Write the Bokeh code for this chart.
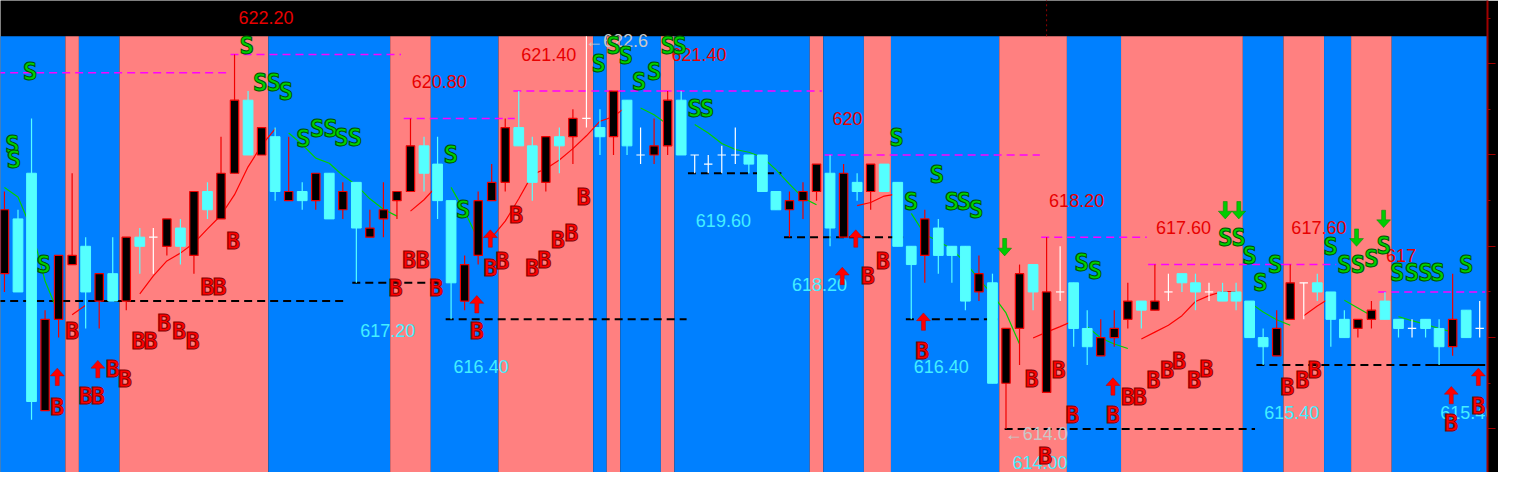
from bokeh.plotting import figure
from bokeh.models import Range1d, LinearAxis, FixedTicker
from bokeh.core.properties import value
from bokeh.embed import file_html
from bokeh.resources import INLINE

nan = float("nan")
_ = None

# ---------------- data (prices) ----------------
opens = [618.8, 617.0, 614.6, 616.4, 617.8, 617.8, 617.0, 617.4, 616.8, 618.2,
         618.0, 618.2, 618.6, 618.0, 619.2, 618.8, 619.6, 621.2, 620.0, 620.6,
         619.2, 619.2, 619.0, 619.6, 618.6, 619.2, 618.4, 618.4, 618.8, 619.2,
         620.2, 619.6, 619.0, 617.2, 617.6, 619.0, 619.4, 620.6, 620.2, 619.4,
         620.4, 620.2, 620.8, 620.8, 620.4, 621.4, 620.2, 620.0, 620.2, 621.2,
         620.0, 620.0, 619.8, 620.0, 620.0, 619.8, 619.2, 618.8, 619.0, 619.2,
         619.8, 618.4, 619.6, 619.2, 619.8, 619.2, 618.0, 617.6, 618.6, 617.8,
         617.8, 616.8, 617.4, 615.0, 616.2, 617.4, 617.0, 617.0, 617.0, 616.2,
         615.8, 616.0, 616.2, 616.8, 616.6, 616.8, 617.0, 617.2, 617.0, 617.0,
         616.8, 616.8, 616.0, 615.8, 616.2, 617.2, 617.2, 617.0, 616.4, 616.0,
         616.4, 616.6, 616.4, 616.2, 616.2, 616.2, 615.8, 616.4, 616.0, 616.2]
highs = [619.2, 618.8, 620.8, 616.6, 617.8, 619.6, 618.2, 617.4, 618.2, 618.2,
         618.4, 618.4, 618.6, 618.6, 619.2, 619.4, 620.4, 622.2, 621.4, 620.6,
         620.6, 620.4, 619.4, 619.6, 619.6, 619.4, 619.4, 618.8, 619.4, 619.2,
         620.8, 620.4, 620.4, 619.0, 617.8, 619.2, 619.8, 620.8, 621.4, 620.4,
         620.4, 620.6, 621.0, 622.6, 621.0, 621.4, 621.2, 620.6, 620.8, 621.4,
         621.4, 620.0, 620.0, 620.2, 620.6, 620.0, 620.0, 619.2, 619.2, 619.4,
         619.8, 620.0, 619.8, 619.6, 619.8, 619.8, 619.4, 618.0, 618.8, 618.6,
         618.0, 618.0, 617.8, 617.4, 616.2, 617.6, 617.6, 618.2, 618.0, 617.2,
         616.6, 616.4, 616.6, 617.2, 616.8, 617.6, 617.4, 617.4, 617.4, 617.2,
         617.2, 617.2, 616.8, 616.2, 616.6, 617.6, 617.2, 617.4, 617.0, 616.6,
         616.4, 616.8, 617.0, 616.4, 616.4, 616.4, 616.4, 617.4, 616.6, 616.8]
lows = [617.0, 617.0, 614.2, 614.4, 616.0, 617.6, 616.2, 616.2, 616.8, 616.6,
        617.4, 617.4, 617.8, 617.6, 617.4, 618.6, 618.6, 619.6, 620.0, 620.0,
        619.0, 619.0, 618.8, 618.8, 618.6, 618.6, 617.2, 618.2, 618.2, 618.6,
        619.2, 619.2, 618.6, 616.4, 616.6, 617.6, 619.0, 619.2, 620.2, 619.0,
        619.2, 619.6, 619.8, 620.6, 620.0, 620.0, 620.0, 619.8, 619.8, 620.0,
        620.0, 619.6, 619.6, 619.6, 619.8, 619.6, 619.2, 618.8, 618.2, 618.6,
        619.0, 618.0, 618.2, 619.0, 618.8, 619.2, 618.0, 616.4, 617.2, 617.4,
        617.2, 616.6, 616.8, 615.0, 614.0, 615.4, 616.6, 614.8, 616.8, 615.8,
        615.4, 615.6, 615.8, 616.2, 616.2, 616.6, 616.8, 617.0, 616.6, 616.8,
        616.8, 616.6, 616.0, 615.4, 615.6, 616.4, 616.4, 616.8, 615.8, 616.0,
        616.0, 616.2, 616.4, 616.0, 616.0, 616.0, 615.4, 615.6, 616.0, 616.0]
closes = [617.4, 618.6, 619.6, 614.4, 616.4, 617.6, 618.0, 616.8, 617.4, 616.8,
          618.2, 618.2, 618.0, 618.4, 617.8, 619.2, 618.6, 619.6, 621.2, 620.0,
          620.4, 619.0, 619.2, 619.0, 619.6, 618.8, 619.4, 618.2, 618.6, 619.0,
          619.2, 620.2, 619.8, 619.0, 616.8, 617.8, 619.0, 619.4, 620.6, 620.2,
          619.4, 620.4, 620.4, 620.8, 620.6, 620.4, 621.2, 620.0, 620.0, 620.2,
          621.2, 620.0, 619.8, 620.0, 620.0, 620.0, 620.0, 619.2, 618.8, 619.0,
          619.2, 619.6, 618.2, 619.4, 619.2, 619.8, 619.4, 618.0, 617.8, 618.4,
          618.0, 618.0, 617.0, 617.2, 615.0, 616.2, 617.6, 614.8, 617.0, 617.2,
          616.2, 615.6, 616.0, 616.4, 616.8, 616.6, 617.0, 617.4, 617.2, 617.0,
          617.0, 617.0, 616.8, 616.0, 615.6, 616.4, 617.2, 617.2, 617.0, 616.4,
          616.2, 616.4, 616.8, 616.4, 616.2, 616.4, 616.2, 615.8, 616.6, 616.2]

ma_green = [619.29, 619.08, 618.38, 617.24, 616.52, _, _, _, _, _,
            _, _, _, _, _, _, _, _, _, _,
            _, 620.48, 620.23, 619.93, 619.82, 619.55, 619.34, 619.04, 618.81, 618.66,
            _, _, _, 619.29, 618.77, 618.15, _, _, _, _,
            _, _, _, _, _, _, _, 621.03, 620.88, 620.67,
            _, 620.67, 620.48, 620.25, 620.12, 620.06, 619.95, 619.68, 619.36, 619.06,
            618.91, _, _, _, _, _, _, 618.72, 618.26, 618.11,
            617.94, 617.64, 617.28, 616.94, 616.54, 615.86, _, _, _, _,
            616.24, 615.99, 615.86, 615.76, _, _, _, _, _, _,
            _, _, 616.77, 616.56, 616.39, 616.27, _, _, _, 616.82,
            616.65, 616.48, _, 616.46, 616.37, 616.29, 616.20, 616.12, _, _]
ma_red = [_, _, _, _, _, 616.50, 616.71, _, _, _,
          616.96, 617.35, 617.68, 617.85, 618.07, 618.38, 618.68, 619.13, 619.74, 620.21,
          620.57, _, _, _, _, _, _, _, _, _,
          618.77, 619.02, 619.34, _, _, _, 618.19, 618.55, 619.04, 619.57,
          619.70, 619.89, 620.14, 620.42, 620.74, 620.84, 621.07, _, _, _,
          _, _, _, _, _, _, _, _, _, _,
          _, _, _, 618.89, 618.96, 619.10, 619.15, _, _, _,
          _, _, _, _, _, _, 615.99, 616.12, 616.24, 616.37,
          _, _, _, _, 615.97, 616.12, 616.27, 616.48, 616.79, 616.92,
          617.01, 617.01, _, _, _, _, 616.48, 616.69, 616.88, _,
          _, _, _, _, _, _, _, _, _, _]

# background regime runs (candles per run), alternating blue / red, starting blue
band_runs = [5, 1, 3, 11, 9, 3, 5, 7, 1, 1, 3, 1, 10, 1, 3, 2, 8, 5, 4, 9, 3, 3, 2, 3, 7]
band_top = 622.6

# resistance (magenta) and support (black) levels
mag_start = [-1.5, 16.7, 37.6, 48.7, 29.5, 60.6, 76.6, 84.5, 94.5, 101.5]
mag_end = [16.4, 29.3, 48.7, 60.4, 37.7, 76.5, 84.4, 94.5, 98.4, 109.4]
mag_price = [621.8, 622.2, 621.4, 621.4, 620.8, 620.0, 618.2, 617.6, 617.6, 617.0]
mag_label = ["", "622.20", "621.40", "621.40", "620.80", "620", "618.20", "617.60", "617.60", "617"]

sup_start = [-1.5, 25.7, 32.6, 50.5, 57.6, 66.6, 73.9, 92.5, 105.5]
sup_end = [25.3, 32.4, 50.4, 57.4, 66.4, 73.4, 92.4, 109.4, 109.4]
sup_price = [616.8, 617.2, 616.4, 619.6, 618.2, 616.4, 614.0, 615.4, 615.4]
sup_label = ["", "617.20", "616.40", "619.60", "618.20", "616.40", "614.00", "615.40", "615.40"]

ext_idx = [43, 74]
ext_text = ["\u2190622.6", "\u2190614.0"]
ext_price = [622.6, 614.0]

sep_idx = [77]

s_x = [1.9, 0.6, 0.7, 2.9, 17.9, 18.9, 19.9, 20.8, 22.1, 23.1, 24.1, 24.9, 25.9, 33.0, 33.9,
       43.9, 45.0, 45.9, 46.9, 48.0, 49.0, 49.9, 51.0, 51.9, 65.9, 67.0, 68.9, 70.0, 70.9, 71.8,
       79.6, 80.6, 90.2, 91.2, 92.0, 92.8, 93.9, 98.0, 99.0, 100.0, 101.0, 101.9, 102.9, 104.0,
       105.0, 105.9, 108.0]
s_y = [621.82, 620.21, 619.89, 617.58, 622.39, 621.58, 621.58, 621.37, 620.35, 620.57, 620.57,
       620.38, 620.38, 619.99, 618.79, 621.99, 622.39, 622.16, 621.60, 621.82, 622.39, 622.39,
       621.01, 621.01, 620.38, 618.96, 619.57, 618.96, 618.96, 618.79, 617.64, 617.45, 618.19,
       618.19, 617.79, 617.20, 617.60, 617.98, 617.58, 617.58, 617.73, 618.00, 617.41, 617.41,
       617.41, 617.41, 617.58]
b_x = [16.9, 15.0, 15.9, 5.0, 9.9, 10.8, 11.8, 12.9, 13.9, 3.9, 6.0, 6.9, 8.0, 8.9,
       29.9, 30.9, 28.9, 31.9, 34.9, 35.9, 36.8, 37.8, 39.0, 39.9, 40.9, 41.9, 42.8,
       63.8, 64.9, 67.8, 75.9, 76.9, 77.9, 78.9, 81.9, 83.0, 83.9, 84.9, 85.9, 86.8, 87.9,
       88.8, 94.8, 95.9, 96.8, 106.9, 108.9]
b_y = [618.11, 617.11, 617.11, 616.14, 615.93, 615.93, 616.33, 616.14, 615.93, 614.49, 614.72,
       614.72, 615.31, 615.10, 617.71, 617.71, 617.09, 617.09, 616.14, 617.52, 617.68, 618.68,
       617.52, 617.71, 618.13, 618.30, 619.08, 617.35, 617.68, 615.71, 615.10, 613.40, 615.29,
       614.31, 614.31, 614.70, 614.70, 615.08, 615.29, 615.48, 615.08, 615.31, 614.91, 615.08,
       615.29, 614.13, 614.51]

up_arrow_x = [3.9, 6.9, 34.9, 35.9, 61.9, 62.9, 67.9, 81.9, 106.9, 108.9]
up_arrow_y = [615.14, 615.31, 616.73, 618.17, 617.35, 618.17, 616.35, 614.93, 614.74, 615.14]
dn_arrow_x = [73.9, 90.2, 91.2, 99.9, 101.9]
dn_arrow_y = [617.98, 618.79, 618.79, 618.19, 618.60]

# ---------------- styling / geometry ----------------
PX_X = 13.68   # reference pixels per candle
PX_Y = 47.2    # reference pixels per price unit
X0, X1 = -4 / PX_X, (1503 - 4) / PX_X
Y1, Y0 = 622.6 + 37 / PX_Y, 622.6 - 451 / PX_Y

BLUE, RED_BG = "#0080FF", "#FF8080"
CYAN, CANDLE_RED = "#55FFFF", "#F00000"

p = figure(width=1498, height=472, x_range=Range1d(X0, X1), y_range=Range1d(Y0, Y1),
           output_backend="svg", toolbar_location=None,
           x_axis_location=None, y_axis_location=None,
           background_fill_color="black", border_fill_color="black",
           outline_line_color=None, min_border=0)
p.min_border_right = 11
p.xgrid.visible = False
p.ygrid.visible = False

ax = LinearAxis(ticker=FixedTicker(ticks=[614, 616, 618, 620, 622],
                                   minor_ticks=[613, 615, 617, 619, 621, 623]),
                axis_line_color="#A00000", axis_line_width=2,
                major_tick_line_color="#A00000", minor_tick_line_color="#A00000",
                major_tick_out=8, major_tick_in=0, minor_tick_out=3, minor_tick_in=0,
                major_label_text_font_size="0px", major_label_text_alpha=0,
                major_label_standoff=0)
p.add_layout(ax, "right")

# background bands
lefts, rights, cols = [], [], []
start = 0
for k, n in enumerate(band_runs):
    end = start + n - 1
    lefts.append(start - 0.5 if k > 0 else X0 - 1)
    rights.append(end + 0.5 if k < len(band_runs) - 1 else X1 + 1)
    cols.append(BLUE if k % 2 == 0 else RED_BG)
    start = end + 1
p.quad(left=lefts, right=rights, top=band_top, bottom=Y0 - 1, fill_color=cols, line_color=None)

# separator in the top strip
p.segment(x0=sep_idx, x1=sep_idx, y0=band_top, y1=Y1 + 1, line_color="#900000",
          line_dash="2 3", line_width=1)

# level lines
p.segment(x0=mag_start, x1=mag_end, y0=mag_price, y1=mag_price, line_color="#FF00FF",
          line_width=1.5, line_dash="8 5")
p.segment(x0=sup_start, x1=sup_end, y0=sup_price, y1=sup_price, line_color="black",
          line_width=2, line_dash="8 5")

# moving average pieces
p.line(list(range(len(ma_green))), [nan if v is None else v for v in ma_green],
       line_color="#00D000", line_width=1.2)
p.line(list(range(len(ma_red))), [nan if v is None else v for v in ma_red],
       line_color="#FF0000", line_width=1.2)

# candles
idx = list(range(len(opens)))
up = [i for i in idx if closes[i] > opens[i]]
dn = [i for i in idx if closes[i] < opens[i]]
dj = [i for i in idx if closes[i] == opens[i]]

p.segment(x0=up, x1=up, y0=[lows[i] for i in up], y1=[highs[i] for i in up],
          line_color=CYAN, line_width=1.2)
p.segment(x0=dn, x1=dn, y0=[lows[i] for i in dn], y1=[highs[i] for i in dn],
          line_color=CANDLE_RED, line_width=1.2)
p.segment(x0=dj, x1=dj, y0=[lows[i] for i in dj], y1=[highs[i] for i in dj],
          line_color="white", line_width=1.2)
p.vbar(x=up, width=0.72, top=[closes[i] for i in up], bottom=[opens[i] for i in up],
       fill_color=CYAN, line_color=CYAN, line_width=1)
p.vbar(x=dn, width=0.62, top=[opens[i] for i in dn], bottom=[closes[i] for i in dn],
       fill_color="black", line_color=CANDLE_RED, line_width=1.2)
p.segment(x0=[i - 0.31 for i in dj], x1=[i + 0.31 for i in dj],
          y0=[closes[i] for i in dj], y1=[closes[i] for i in dj],
          line_color="white", line_width=1.2)

# level labels
lab_dx = 8 / PX_X
mx = [s + lab_dx for s, t in zip(mag_start, mag_label) if t]
my = [v + 38 / PX_Y for v, t in zip(mag_price, mag_label) if t]
mt = [t for t in mag_label if t]
p.text(x=mx, y=my, text=mt, text_color="#E80000", text_font=value("Liberation Sans"),
       text_font_size=value("18px"), text_align="left", text_baseline="middle")
y_floor = Y0 + 10 / PX_Y
sx = [s + lab_dx for s, t in zip(sup_start, sup_label) if t]
sy = [max(v - 49 / PX_Y, y_floor) for v, t in zip(sup_price, sup_label) if t]
st = [t for t in sup_label if t]
p.text(x=sx, y=sy, text=st, text_color="#44EEFF", text_font=value("Liberation Sans"),
       text_font_size=value("18px"), text_align="left", text_baseline="middle")
p.text(x=[i - 0.1 for i in ext_idx], y=[v - 5 / PX_Y for v in ext_price], text=ext_text,
       text_color="#C8C8C8", text_font=value("Liberation Sans"),
       text_font_size=value("18px"), text_align="left", text_baseline="middle")

# signal letters
p.text(x=s_x, y=s_y, text=["S"] * len(s_x), text_color="#00D000",
       text_font=value("DejaVu Sans Mono"), text_font_style="bold",
       text_font_size=value("24px"), text_align="center", text_baseline="middle",
       text_outline_color="#005000")
p.text(x=b_x, y=b_y, text=["B"] * len(b_x), text_color="#FF0000",
       text_font=value("DejaVu Sans Mono"), text_font_style="bold",
       text_font_size=value("23px"), text_align="center", text_baseline="middle",
       text_outline_color="#800000")

# arrows
def arrow(cx, cy, sign):
    pts = [(0, 9), (7, 1), (2, 1), (2, -9), (-2, -9), (-2, 1), (-7, 1)]
    return ([cx + dx / PX_X for dx, dy in pts], [cy + sign * dy / PX_Y for dx, dy in pts])

uxs, uys = zip(*[arrow(x, y, 1) for x, y in zip(up_arrow_x, up_arrow_y)])
p.patches(xs=list(uxs), ys=list(uys), fill_color="#FF0000", line_color="#C00000", line_width=0.5)
dxs, dys = zip(*[arrow(x, y, -1) for x, y in zip(dn_arrow_x, dn_arrow_y)])
p.patches(xs=list(dxs), ys=list(dys), fill_color="#00CC00", line_color="#008000", line_width=0.5)

open("out.html", "w").write(file_html(p, INLINE))
